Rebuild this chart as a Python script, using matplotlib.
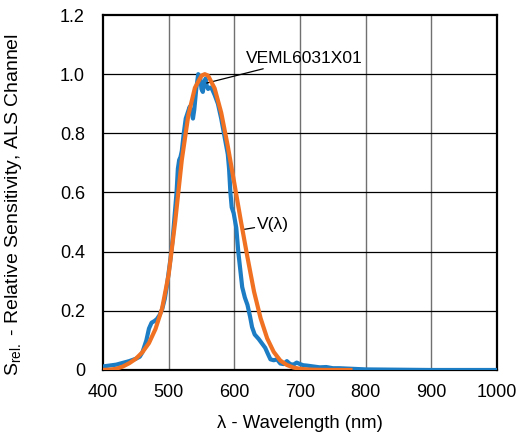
import numpy as np
import matplotlib
matplotlib.use("Agg")
import matplotlib.pyplot as plt

plt.rcParams['font.family'] = ['Liberation Sans', 'DejaVu Sans']
plt.rcParams['mathtext.fontset'] = 'custom'
plt.rcParams['mathtext.rm'] = 'Liberation Sans'

# -------------------------
# data
# -------------------------
# VEML6031X01 ALS channel response
sensor_wl = [400, 410, 420, 430, 440, 450, 456, 460, 466, 470, 474, 478, 482, 486,
             490, 494, 497, 500, 503, 506, 509, 512, 514, 516, 518, 520, 523, 526,
             529, 532, 535, 537, 539, 542, 545, 548, 550, 552, 554, 556, 558, 560,
             563, 566, 570, 575, 580, 585, 590, 592, 594, 596, 599, 603, 606, 609,
             612, 616, 620, 624, 627, 631, 637, 642, 647, 651, 655, 660, 665, 670,
             675, 680, 685, 690, 695, 700, 705, 710, 720, 730, 740, 750, 760, 780,
             800, 850, 900, 1000]
sensor_s = [0.012, 0.015, 0.018, 0.024, 0.030, 0.038, 0.045, 0.060, 0.100, 0.140,
            0.160, 0.165, 0.172, 0.185, 0.205, 0.240, 0.280, 0.330, 0.380, 0.440,
            0.520, 0.600, 0.680, 0.710, 0.720, 0.740, 0.800, 0.850, 0.870, 0.890,
            0.870, 0.850, 0.880, 0.950, 1.000, 0.990, 0.950, 0.940, 0.970, 0.985,
            0.960, 0.950, 0.955, 0.950, 0.930, 0.900, 0.850, 0.790, 0.730, 0.680,
            0.600, 0.550, 0.530, 0.480, 0.400, 0.340, 0.280, 0.245, 0.220, 0.180,
            0.145, 0.120, 0.105, 0.090, 0.075, 0.055, 0.036, 0.033, 0.036, 0.022,
            0.020, 0.030, 0.020, 0.018, 0.025, 0.020, 0.016, 0.015, 0.012, 0.009,
            0.010, 0.006, 0.006, 0.004, 0.002, 0.001, 0.0, 0.0]

# photopic eye response V(lambda)
eye_wl = [400, 410, 420, 430, 440, 450, 460, 470, 480, 490, 500, 510, 520, 530,
          540, 550, 555, 560, 570, 580, 590, 600, 610, 620, 630, 640, 650, 660,
          670, 680, 690, 700, 710, 720, 730, 740, 750, 760, 770, 780]
eye_s = [0.0004, 0.0012, 0.004, 0.0116, 0.023, 0.038, 0.060, 0.091, 0.139, 0.208,
         0.323, 0.503, 0.710, 0.862, 0.954, 0.995, 1.000, 0.995, 0.952, 0.870,
         0.757, 0.631, 0.503, 0.381, 0.265, 0.175, 0.107, 0.061, 0.032, 0.017,
         0.0082, 0.0041, 0.0021, 0.00105, 0.00052, 0.00025, 0.00012, 0.00006,
         0.00003, 0.000015]

x_ticks = [400, 500, 600, 700, 800, 900, 1000]
y_ticks = [0, 0.2, 0.4, 0.6, 0.8, 1.0, 1.2]
y_tick_labels = ["0", "0.2", "0.4", "0.6", "0.8", "1.0", "1.2"]

# -------------------------
# plot
# -------------------------
fig = plt.figure(figsize=(5.17, 4.37), dpi=100)
ax = fig.add_axes([103 / 517, 1 - 370 / 437, 394 / 517, 355 / 437])

ax.plot(sensor_wl, sensor_s, color='#1c7cc4', lw=3.0, solid_capstyle='butt', zorder=3)
ax.plot(eye_wl, eye_s, color='#f07122', lw=3.0, solid_capstyle='butt', zorder=4)

ax.set_xlim(400, 1000)
ax.set_ylim(0, 1.2)
ax.set_xticks(x_ticks)
ax.set_yticks(y_ticks)
ax.set_yticklabels(y_tick_labels)
ax.tick_params(axis='both', length=0, labelsize=13)
ax.tick_params(axis='y', pad=13)
ax.tick_params(axis='x', pad=10)

for x in x_ticks[1:-1]:
    ax.axvline(x, color='#707070', lw=1.0, zorder=1)
for y in y_ticks[1:-1]:
    ax.axhline(y, color='black', lw=0.9, zorder=1)

for sp in ax.spines.values():
    sp.set_linewidth(1.6)
    sp.set_color('black')

ax.set_xlabel(u"\u03bb - Wavelength (nm)", fontsize=13.3, labelpad=10)
ax.set_ylabel(r"S$_{\mathrm{rel.}}$ - Relative Sensitivity, ALS Channel", fontsize=14)
ax.yaxis.set_label_coords(-0.2, 0.465)

ax.annotate("VEML6031X01", xy=(558, 0.97), xytext=(617, 1.053),
            fontsize=12.5, va='center', ha='left',
            arrowprops=dict(arrowstyle='-', color='black', lw=0.9, shrinkA=0, shrinkB=0))
ax.annotate(u"V(\u03bb)", xy=(614, 0.475), xytext=(635, 0.492),
            fontsize=12.5, va='center', ha='left',
            arrowprops=dict(arrowstyle='-', color='black', lw=0.9, shrinkA=0, shrinkB=0))

fig.savefig("out.png", dpi=100)
